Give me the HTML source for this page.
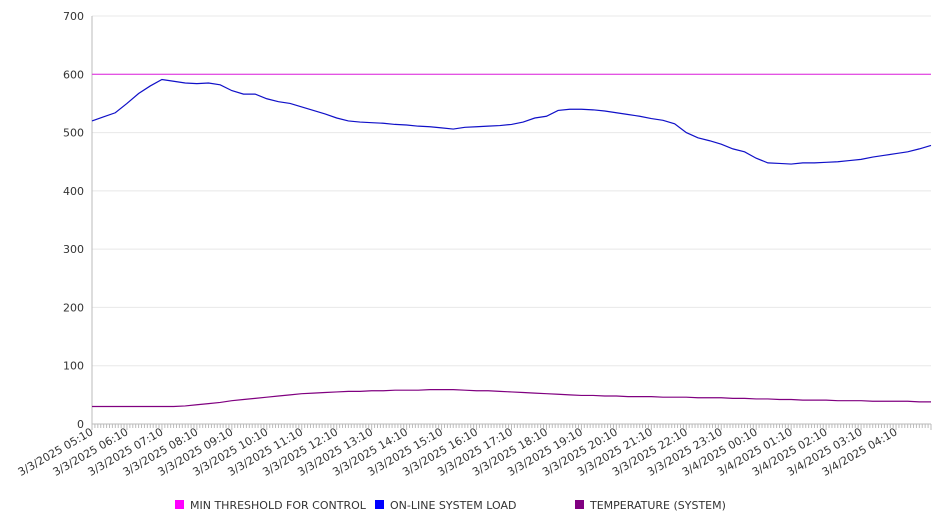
<!DOCTYPE html>
<html><head><meta charset="utf-8"><style>
body{margin:0;background:#fff;font-family:"DejaVu Sans","Liberation Sans",sans-serif;}
svg text{font-family:"DejaVu Sans","Liberation Sans",sans-serif;fill:#333;}
</style></head><body>
<svg id="c" width="946" height="526" xmlns="http://www.w3.org/2000/svg"></svg>
<script>
const yTicks=[0,100,200,300,400,500,600,700];
const xLabels=["3/3/2025 05:10","3/3/2025 06:10","3/3/2025 07:10","3/3/2025 08:10","3/3/2025 09:10","3/3/2025 10:10","3/3/2025 11:10","3/3/2025 12:10","3/3/2025 13:10","3/3/2025 14:10","3/3/2025 15:10","3/3/2025 16:10","3/3/2025 17:10","3/3/2025 18:10","3/3/2025 19:10","3/3/2025 20:10","3/3/2025 21:10","3/3/2025 22:10","3/3/2025 23:10","3/4/2025 00:10","3/4/2025 01:10","3/4/2025 02:10","3/4/2025 03:10","3/4/2025 04:10"];
const threshold=600;
const loadValues=[520,527,534,550,567,580,591,588,585,584,585,582,572,566,566,558,553,550,544,538,532,525,520,518,517,516,514,513,511,510,508,506,509,510,511,512,514,518,525,528,538,540,540,539,537,534,531,528,524,521,515,500,491,486,480,472,467,456,448,447,446,448,448,449,450,452,454,458,461,464,467,472,478];
const tempValues=[30,30,30,30,30,30,30,30,31,33,35,37,40,42,44,46,48,50,52,53,54,55,56,56,57,57,58,58,58,59,59,59,58,57,57,56,55,54,53,52,51,50,49,49,48,48,47,47,47,46,46,46,45,45,45,44,44,43,43,42,42,41,41,41,40,40,40,39,39,39,39,38,38];
const NS="http://www.w3.org/2000/svg",svg=document.getElementById('c');
const L=92,R=931,T=16,B=424,hourPx=(R-L)/24;
const y=v=>B-(v/700)*(B-T);
const xi=i=>L+i*(R-L)/(loadValues.length-1);
function mk(t,a,p){const e=document.createElementNS(NS,t);for(const k in a)e.setAttribute(k,a[k]);(p||svg).appendChild(e);return e;}
yTicks.forEach(v=>{
 const g=mk('line',{x1:L,x2:R,y1:y(v),y2:y(v),stroke:v===0?'#bbb':'#e8e8e8','stroke-width':1});
 
 
 const t=mk('text',{x:84,y:y(v)+4,'text-anchor':'end','font-size':11});
 t.textContent=v;
 
 
});
const ax=mk('line',{x1:L,x2:L,y1:T,y2:B,stroke:'#bbb'});


for(let m=0;m<=24*12;m++){const xx=L+m*hourPx/12;const tk=mk('line',{x1:xx,x2:xx,y1:B,y2:B+(m%12===0?6:4),stroke:'#bbb'});
 
 }
xLabels.forEach((s,i)=>{
 const xx=L+i*hourPx;
 const t=mk('text',{x:xx+2,y:B+10,'text-anchor':'end','font-size':11,transform:`rotate(-30 ${xx+2} ${B+10})`});
 t.textContent=s;
 
 
});
const th=mk('line',{x1:L,x2:R,y1:y(threshold),y2:y(threshold),stroke:'#e020e0','stroke-width':1});


const lp=mk('polyline',{points:loadValues.map((v,i)=>xi(i)+','+y(v)).join(' '),fill:'none',stroke:'#1010c8','stroke-width':1.2});


const tp=mk('polyline',{points:tempValues.map((v,i)=>L+i*(R-L)/(tempValues.length-1)+','+y(v)).join(' '),fill:'none',stroke:'#800080','stroke-width':1.2});


const leg=[["MIN THRESHOLD FOR CONTROL","#ff00ff",175],["ON-LINE SYSTEM LOAD","#0000ff",375],["TEMPERATURE (SYSTEM)","#800080",575]];
leg.forEach(([s,c,x0])=>{
 const g=mk('g',{});
 
 
 mk('rect',{x:x0,y:500,width:9,height:9,fill:c},g);
 const t=mk('text',{x:x0+15,y:509,'font-size':11},g);t.textContent=s;
});
</script>
</body></html>
